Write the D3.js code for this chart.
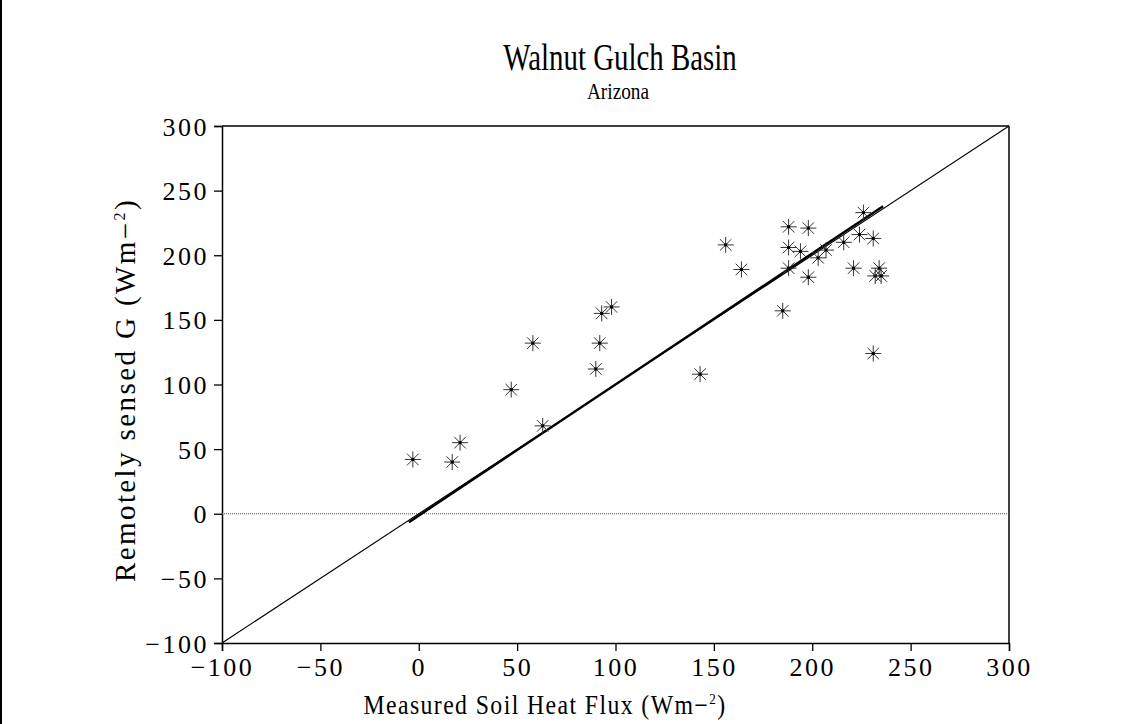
<!DOCTYPE html>
<html>
<head>
<meta charset="utf-8">
<script src="https://cdn.jsdelivr.net/npm/d3@7"></script>
<style>
  body { margin: 0; background: #fff; }
  text { font-family: "Liberation Serif", "DejaVu Serif", serif; fill: #000; }
</style>
</head>
<body>
<script>
// measured soil heat flux vs remotely sensed G
var measured = [-3, 17, 21, 47, 58, 63, 90, 92, 93, 98, 143, 156, 164, 185, 188, 188, 188, 194, 198, 198, 203, 207, 216, 221, 224, 226, 231, 231, 234, 232, 235];
var sensed   = [42, 40, 55, 96, 132, 68, 112, 132, 155, 160, 108, 208, 189, 157, 222, 206, 190, 203, 221, 183, 198, 204, 210, 190, 216, 233, 213, 124, 190, 184, 184];
var xTicks = [-100, -50, 0, 50, 100, 150, 200, 250, 300];
var yTicks = [-100, -50, 0, 50, 100, 150, 200, 250, 300];
var fitX = [-5, 236];
var fitY = [-6.5, 238];

var W = 1144, H = 724;
var margin = { top: 126, right: 135, bottom: 81, left: 222 },
    width = 1009 - margin.left,
    height = 643 - margin.top;

var root = d3.select('body').append('svg')
  .attr('width', W)
  .attr('height', H);

// page edge line on the left
root.append('rect')
  .attr('x', 0).attr('y', 0)
  .attr('width', 2).attr('height', H)
  .attr('fill', '#000');

var svg = root.append('g')
  .attr('transform', 'translate(' + margin.left + ',' + margin.top + ')');

var x = d3.scaleLinear().domain([-100, 300]).range([0, width]);
var y = d3.scaleLinear().domain([-100, 300]).range([height, 0]);

// titles
root.append('text')
  .attr('x', 620).attr('y', 70)
  .attr('text-anchor', 'middle')
  .attr('transform', 'translate(620,0) scale(0.76,1) translate(-620,0)')
  .style('font-size', '38px')
  .text('Walnut Gulch Basin');

root.append('text')
  .attr('x', 618).attr('y', 99)
  .attr('text-anchor', 'middle')
  .attr('transform', 'translate(618,0) scale(0.84,1) translate(-618,0)')
  .style('font-size', '23px')
  .text('Arizona');

// axes
var xAxis = d3.axisBottom(x).tickValues(xTicks).tickSize(8).tickPadding(4)
  .tickFormat(function(d) { return d < 0 ? '\u2212' + Math.abs(d) : d; });
var yAxis = d3.axisLeft(y).tickValues(yTicks).tickSize(8).tickPadding(5)
  .tickFormat(function(d) { return d < 0 ? '\u2212' + Math.abs(d) : d; });

var gx = svg.append('g')
  .attr('transform', 'translate(0,' + height + ')')
  .call(xAxis);
var gy = svg.append('g').call(yAxis);

[gx, gy].forEach(function(g) {
  g.select('.domain').attr('stroke', '#000').attr('stroke-width', 1.5);
  g.selectAll('.tick line').attr('stroke', '#000').attr('stroke-width', 1.3);
  g.selectAll('.tick text')
    .style('font-family', '"Liberation Serif", serif')
    .style('font-size', '26px')
    .style('letter-spacing', '2.5px')
    .attr('fill', '#000');
});
gx.selectAll('.tick text').attr('dy', '0.8em');
gy.selectAll('.tick text').attr('dy', '0.35em');

// top and right frame
svg.append('line')
  .attr('x1', 0).attr('x2', width).attr('y1', 0).attr('y2', 0)
  .attr('stroke', '#000').attr('stroke-width', 1.5);
svg.append('line')
  .attr('x1', width).attr('x2', width).attr('y1', 0).attr('y2', height)
  .attr('stroke', '#000').attr('stroke-width', 1.5);

// zero line
svg.append('line')
  .attr('x1', 0).attr('x2', width)
  .attr('y1', y(0)).attr('y2', y(0))
  .attr('stroke', '#555').attr('stroke-width', 1)
  .attr('stroke-dasharray', '1,1');

// 1:1 line
svg.append('line')
  .attr('x1', x(-100)).attr('y1', y(-100))
  .attr('x2', x(300)).attr('y2', y(300))
  .attr('stroke', '#000').attr('stroke-width', 1.1);

// fitted line
svg.append('line')
  .attr('x1', x(fitX[0])).attr('y1', y(fitY[0]))
  .attr('x2', x(fitX[1])).attr('y2', y(fitY[1]))
  .attr('stroke', '#000').attr('stroke-width', 2.4);

// asterisk markers
var r = 8, rd = r * 0.72;
var star = 'M' + (-r) + ',0L' + r + ',0' +
  'M0,' + (-r) + 'L0,' + r +
  'M' + (-rd) + ',' + (-rd) + 'L' + rd + ',' + rd +
  'M' + (-rd) + ',' + rd + 'L' + rd + ',' + (-rd);

var pts = svg.selectAll('.pt')
  .data(measured.map(function(d, i) { return [d, sensed[i]]; }))
  .enter().append('g')
  .attr('class', 'pt')
  .attr('transform', function(d) { return 'translate(' + x(d[0]) + ',' + y(d[1]) + ')'; });

pts.append('path')
  .attr('d', star)
  .attr('stroke', '#333')
  .attr('stroke-width', 1)
  .attr('fill', 'none');
pts.append('rect')
  .attr('x', -1.5).attr('y', -1.5)
  .attr('width', 3).attr('height', 3)
  .attr('fill', '#000');

// axis titles
root.append('text')
  .attr('x', 545).attr('y', 714)
  .attr('text-anchor', 'middle')
  .attr('transform', 'translate(545,0) scale(0.88,1) translate(-545,0)')
  .style('font-size', '27px')
  .style('letter-spacing', '1.6px')
  .html('Measured Soil Heat Flux (Wm\u2212<tspan dy="-10" font-size="15">2</tspan><tspan dy="10">)</tspan>');

root.append('text')
  .attr('transform', 'translate(135,390) rotate(-90)')
  .attr('text-anchor', 'middle')
  .style('font-size', '29px')
  .style('letter-spacing', '2.4px')
  .html('Remotely sensed G (Wm\u2212<tspan dy="-10" font-size="16">2</tspan><tspan dy="10">)</tspan>');
</script>
</body>
</html>
